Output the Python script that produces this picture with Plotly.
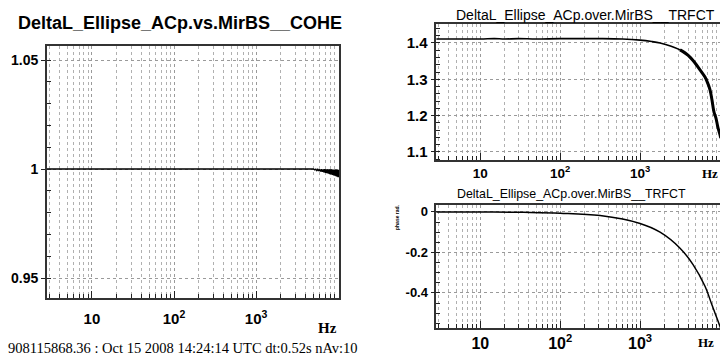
import plotly.graph_objects as go

# ---- coherence DeltaL_Ellipse_ACp vs MirBS ----
coh_freq = [2.8, 10, 100, 1000, 3000, 4500, 5000, 5200, 5350, 5500, 5650, 5800, 5950,
            6100, 6250, 6400, 6550, 6700, 6850, 7000, 7150, 7300, 7450, 7600, 7750,
            7900, 8050, 8200, 8350, 8500, 8650, 8800, 8950, 9100, 9250, 9400, 9550,
            9700, 9850, 10000, 10120, 10240]
coh_val = [1.0, 1.0, 1.0, 1.0, 1.0, 0.9999, 1.0, 0.9996, 0.9999, 0.9993, 0.9999,
           0.9991, 0.9998, 0.9989, 0.9999, 0.9987, 0.9998, 0.9985, 0.9999, 0.9983,
           0.9998, 0.9981, 0.9999, 0.9979, 0.9998, 0.9977, 0.9998, 0.9975, 0.9999,
           0.9973, 0.9997, 0.9971, 0.9998, 0.9969, 0.9997, 0.9967, 0.9998, 0.9965,
           0.9997, 0.9963, 0.9996, 0.9962]

# ---- transfer function magnitude ----
mag_freq = [2.8, 10, 15, 20, 30, 50, 100, 300, 600, 1000, 1400, 1778, 2400, 3162,
            4000, 4870, 5620, 6490, 7000, 7500, 7940, 8400, 8900, 9400, 10000, 10240]
mag_val = [1.411, 1.411, 1.412, 1.411, 1.412, 1.411, 1.412, 1.412, 1.411, 1.408,
           1.404, 1.400, 1.392, 1.381, 1.366, 1.345, 1.326, 1.306, 1.290, 1.271,
           1.243, 1.210, 1.193, 1.168, 1.147, 1.138]

# ---- transfer function phase (rad) ----
ph_freq = [2.8, 10, 35, 100, 316, 1000, 1778, 3162, 4600, 6490, 7940, 10000, 10240]
ph_val = [0.0, 0.0, -0.002, -0.006, -0.018, -0.057, -0.100, -0.179, -0.260,
          -0.367, -0.460, -0.566, -0.580]

x_tickvals = [10, 100, 1000]
x_ticktext = ["10", "10<sup>2</sup>", "10<sup>3</sup>"]
x_minor = [m * d for d in (1, 10, 100, 1000) for m in range(2, 10)] + [10000]

coh_ticks = [0.95, 1.0, 1.05]
coh_ticktext = ["0.95", "1", "1.05"]
mag_ticks = [1.1, 1.2, 1.3, 1.4]
mag_ticktext = ["1.1", "1.2", "1.3", "1.4"]
ph_ticks = [-0.4, -0.2, 0.0]
ph_ticktext = ["-0.4", "-0.2", "0"]

fig = go.Figure()
fig.add_trace(go.Scatter(x=coh_freq, y=coh_val, mode="lines",
                         line=dict(color="black", width=1.4),
                         xaxis="x", yaxis="y", showlegend=False))
fig.add_trace(go.Scatter(x=mag_freq, y=mag_val, mode="lines",
                         line=dict(color="black", width=1.6, shape="spline"),
                         xaxis="x2", yaxis="y2", showlegend=False))
fig.add_trace(go.Scatter(x=mag_freq[13:], y=mag_val[13:], mode="lines",
                         line=dict(color="black", width=3, shape="spline"),
                         xaxis="x2", yaxis="y2", showlegend=False))
fig.add_trace(go.Scatter(x=ph_freq, y=ph_val, mode="lines",
                         line=dict(color="black", width=1.5, shape="spline"),
                         xaxis="x3", yaxis="y3", showlegend=False))

frame = dict(showline=True, linecolor="#333", linewidth=1.5, mirror=True,
             zeroline=False, showgrid=True, gridcolor="#9a9a9a", griddash="dot",
             gridwidth=1, automargin=False)


def xaxis(domain, rng, size, anchor, standoff):
    return dict(frame, type="log", domain=domain, range=rng, anchor=anchor,
                tickvals=x_tickvals, ticktext=x_ticktext, ticks="inside",
                ticklen=7, tickcolor="#222",
                tickfont=dict(family="Liberation Sans", size=size, color="black",
                              weight="bold"),
                ticklabelstandoff=standoff,
                minor=dict(tickvals=x_minor, ticks="inside", ticklen=4,
                           tickcolor="#222", showgrid=True, gridcolor="#b0b0b0",
                           griddash="dot", gridwidth=1))


def yaxis(domain, rng, tv, tt, minor_dtick, size, anchor):
    return dict(frame, domain=domain, range=rng, anchor=anchor,
                tickvals=tv, ticktext=tt,
                ticks="outside", ticklen=4, tickcolor="#222",
                tickfont=dict(family="Liberation Sans", size=size, color="black",
                              weight="bold"),
                minor=dict(dtick=minor_dtick, ticks="inside", ticklen=4,
                           tickcolor="#222", showgrid=False))


fig.update_layout(
    template="none",
    width=720, height=360,
    margin=dict(l=0, r=0, t=0, b=0),
    paper_bgcolor="white", plot_bgcolor="white",
    xaxis=xaxis([0.065, 0.471], [0.45, 4.012], 15, "y", 6),
    yaxis=yaxis([0.172, 0.872], [0.9408, 1.0564], coh_ticks, coh_ticktext,
                0.01, 14, "x"),
    xaxis2=xaxis([0.606, 1.0], [0.45, 4.0], 13.5, "y2", 0),
    yaxis2=yaxis([0.556, 0.933], [1.078, 1.452], mag_ticks, mag_ticktext,
                 0.02, 15, "x2"),
    xaxis3=xaxis([0.606, 1.0], [0.45, 4.0], 16, "y3", 0),
    yaxis3=yaxis([0.089, 0.431], [-0.573, 0.035], ph_ticks, ph_ticktext,
                 0.05, 13, "x3"),
)

ann = [
    dict(text="<b>DeltaL_Ellipse_ACp.vs.MirBS__COHE</b>", x=180, y=23, size=18,
         family="Liberation Sans"),
    dict(text="DeltaL_Ellipse_ACp.over.MirBS__TRFCT", x=585, y=15, size=14,
         family="Liberation Sans"),
    dict(text="DeltaL_Ellipse_ACp.over.MirBS__TRFCT", x=571, y=194, size=12.4,
         family="Liberation Sans"),
    dict(text="<b>Hz</b>", x=327, y=328, size=15, family="Liberation Serif"),
    dict(text="<b>Hz</b>", x=710, y=173, size=13, family="Liberation Serif"),
    dict(text="<b>Hz</b>", x=706, y=342, size=13, family="Liberation Serif"),
]
annotations = [
    dict(text=a["text"], x=a["x"] / 720, y=1 - a["y"] / 360, xref="paper",
         yref="paper", xanchor="center", yanchor="middle", showarrow=False,
         font=dict(family=a["family"], size=a["size"], color="black"))
    for a in ann
]
annotations.append(dict(
    text="908115868.36 : Oct 15 2008 14:24:14 UTC dt:0.52s nAv:10",
    x=6 / 720, y=1 - 348 / 360, xref="paper", yref="paper", xanchor="left",
    yanchor="middle", showarrow=False,
    font=dict(family="Liberation Serif", size=14.5, color="black")))
annotations.append(dict(
    text="<b>phase rad.</b>", x=397 / 720, y=1 - 217 / 360, xref="paper",
    yref="paper", xanchor="center", yanchor="middle", showarrow=False,
    textangle=-90, font=dict(family="Liberation Sans", size=5, color="black")))
fig.update_layout(annotations=annotations)

fig.write_html("out.html")
